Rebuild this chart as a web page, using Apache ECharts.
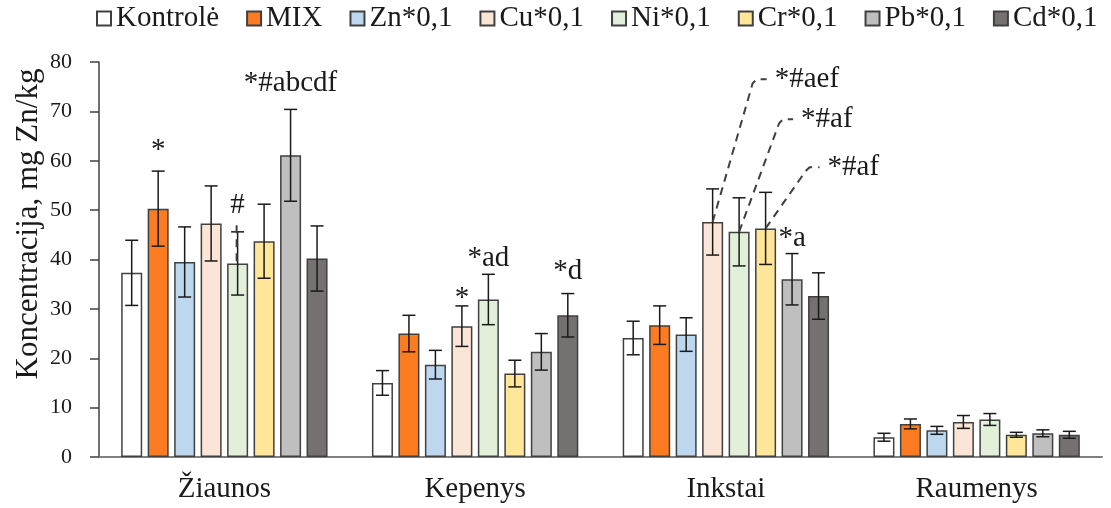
<!DOCTYPE html>
<html>
<head>
<meta charset="utf-8">
<script src="https://cdn.jsdelivr.net/npm/echarts@6/dist/echarts.min.js"></script>
<style>html,body{margin:0;padding:0;background:#fff}#c{width:1111px;height:508px}</style>
</head>
<body>
<div id="c"></div>
<script>
// ---- data ----
const categories = ['Žiaunos', 'Kepenys', 'Inkstai', 'Raumenys'];
const seriesNames = ['Kontrolė', 'MIX', 'Zn*0,1', 'Cu*0,1', 'Ni*0,1', 'Cr*0,1', 'Pb*0,1', 'Cd*0,1'];
const kontrole = [37.3, 15.0, 24.1, 4.0];
const mix      = [50.3, 25.0, 26.7, 6.7];
const zn       = [39.5, 18.7, 24.8, 5.4];
const cu       = [47.3, 26.5, 47.6, 7.1];
const ni       = [39.2, 31.9, 45.6, 7.6];
const cr       = [43.7, 16.9, 46.3, 4.5];
const pb       = [61.1, 21.3, 36.0, 4.8];
const cd       = [40.2, 28.7, 32.6, 4.5];
const kontroleErr = [6.6, 2.5, 3.4, 0.8];
const mixErr      = [7.6, 3.7, 3.9, 1.0];
const znErr       = [7.1, 2.9, 3.4, 0.8];
const cuErr       = [7.6, 4.1, 6.7, 1.3];
const niErr       = [6.4, 5.1, 6.9, 1.2];
const crErr       = [7.5, 2.7, 7.3, 0.5];
const pbErr       = [9.3, 3.7, 5.2, 0.7];
const cdErr       = [6.6, 4.4, 4.7, 0.7];
const yTicks = [0, 10, 20, 30, 40, 50, 60, 70, 80];
// significance marks: category index, series index, text, label value (y), leader type
const annotations = [
  {cat: 0, s: 1, text: '*',       y: 62.0},
  {cat: 0, s: 4, text: '#',       y: 51.0, leader: 'vertical'},
  {cat: 0, s: 6, text: '*#abcdf', y: 75.6},
  {cat: 1, s: 3, text: '*',       y: 32.2},
  {cat: 1, s: 4, text: '*ad',     y: 40.3},
  {cat: 1, s: 7, text: '*d',      y: 37.6},
  {cat: 2, s: 6, text: '*a',      y: 44.3},
  {cat: 2, s: 3, text: '*#aef',   y: 76.5, leader: 'callout'},
  {cat: 2, s: 4, text: '*#af',    y: 68.4, leader: 'callout'},
  {cat: 2, s: 5, text: '*#af',    y: 58.7, leader: 'callout'}
];

// ---- styling ----
const values = [kontrole, mix, zn, cu, ni, cr, pb, cd];
const errors = [kontroleErr, mixErr, znErr, cuErr, niErr, crErr, pbErr, cdErr];
const colors = ['#FFFFFF', '#FD7B21', '#BDD7EE', '#FBE5D6', '#E2F0D9', '#FFE699', '#BFBFBF', '#767171'];
const FONT = '"Liberation Serif", "Times New Roman", serif';
const CAT_GAP = 0.177, BAR_GAP = 0.26, N = seriesNames.length;

function barCenter(api, cat, s) {
  const W = api.size([1, 0])[0];
  const rem = W * (1 - CAT_GAP);
  const bw = rem / (N + (N - 1) * BAR_GAP);
  return {x: api.coord([cat, 0])[0] - rem / 2 + s * bw * (1 + BAR_GAP) + bw / 2, bw: bw};
}

const barSeries = seriesNames.map((name, i) => ({
  name: name,
  type: 'bar',
  data: values[i],
  barGap: (BAR_GAP * 100) + '%',
  barCategoryGap: (CAT_GAP * 100) + '%',
  itemStyle: {color: colors[i], borderColor: '#404040', borderWidth: 1.5},
  emphasis: {disabled: true},
  z: 2
}));

const errData = [];
for (let s = 0; s < N; s++) for (let c = 0; c < categories.length; c++) errData.push([c, s, values[s][c], errors[s][c]]);

const errSeries = {
  type: 'custom',
  name: 'err',
  data: errData,
  encode: {x: 0, y: 2},
  z: 5,
  silent: true,
  renderItem: function (params, api) {
    const cat = api.value(0), s = api.value(1), v = api.value(2), e = api.value(3);
    const x = barCenter(api, cat, s).x;
    const yt = api.coord([cat, v + e])[1];
    const yb = api.coord([cat, v - e])[1];
    const hw = 6.5;
    const st = {stroke: '#1a1a1a', lineWidth: 1.5};
    return {type: 'group', children: [
      {type: 'line', shape: {x1: x, y1: yt, x2: x, y2: yb}, style: st},
      {type: 'line', shape: {x1: x - hw, y1: yt, x2: x + hw, y2: yt}, style: st},
      {type: 'line', shape: {x1: x - hw, y1: yb, x2: x + hw, y2: yb}, style: st}
    ]};
  }
};

const annSeries = {
  type: 'custom',
  name: 'ann',
  data: annotations.map((a, i) => [a.cat, a.y, i]),
  encode: {x: 0, y: 1},
  z: 6,
  silent: true,
  renderItem: function (params, api) {
    const a = annotations[params.dataIndex];
    const bc = barCenter(api, a.cat, a.s);
    const ly = api.coord([a.cat, a.y])[1];
    const topY = api.coord([a.cat, values[a.s][a.cat]])[1];
    const ts = {fill: '#1a1a1a', font: '29px ' + FONT, textVerticalAlign: 'middle'};
    const children = [];
    const dash = {stroke: '#404040', lineWidth: 2, lineDash: [8, 6]};
    if (a.leader === 'callout') {
      const lx = bc.x + 40;
      children.push({type: 'polyline', shape: {points: [[bc.x, topY], [lx, ly + 4], [lx + 4, ly], [lx + 14, ly]]}, style: Object.assign({fill: null}, dash)});
      children.push({type: 'text', style: Object.assign({x: lx + 22, y: ly, text: a.text, textAlign: 'left'}, ts)});
    } else {
      if (a.leader === 'vertical') {
        children.push({type: 'line', shape: {x1: bc.x - 1, y1: ly + 20, x2: bc.x - 1, y2: topY}, style: dash});
      }
      children.push({type: 'text', style: Object.assign({x: bc.x, y: ly, text: a.text, textAlign: 'center'}, ts)});
    }
    return {type: 'group', children: children};
  }
};

const chart = echarts.init(document.getElementById('c'), null, {renderer: 'canvas'});
chart.setOption({
  animation: false,
  backgroundColor: '#fff',
  textStyle: {fontFamily: FONT},
  grid: {left: 99, right: 9, top: 62, bottom: 51, containLabel: false},
  legend: {
    data: seriesNames,
    left: 96, top: 4, width: 1015, padding: 0,
    orient: 'horizontal',
    itemWidth: 14, itemHeight: 14, itemGap: 27,
    icon: 'rect',
    textStyle: {fontFamily: FONT, fontSize: 29, color: '#1a1a1a'},
    selectedMode: false
  },
  xAxis: {
    type: 'category',
    data: categories,
    axisLine: {lineStyle: {color: '#808080', width: 2}},
    axisTick: {show: false},
    axisLabel: {fontFamily: FONT, fontSize: 29, color: '#1a1a1a', margin: 18}
  },
  yAxis: {
    type: 'value',
    min: yTicks[0], max: yTicks[yTicks.length - 1], interval: yTicks[1] - yTicks[0],
    axisLine: {show: true, lineStyle: {color: '#404040', width: 1.5}},
    axisTick: {show: true, inside: false, length: 9, lineStyle: {color: '#404040', width: 1.5}},
    splitLine: {show: false},
    axisLabel: {fontFamily: FONT, fontSize: 22, color: '#1a1a1a', margin: 27}
  },
  graphic: [{
    type: 'text', x: 29, y: 224, rotation: Math.PI / 2,
    style: {text: 'Koncentracija, mg Zn/kg', font: '31px ' + FONT, fill: '#1a1a1a', textAlign: 'center', textVerticalAlign: 'middle'}
  }],
  series: barSeries.concat([errSeries, annSeries])
});
</script>
</body>
</html>
